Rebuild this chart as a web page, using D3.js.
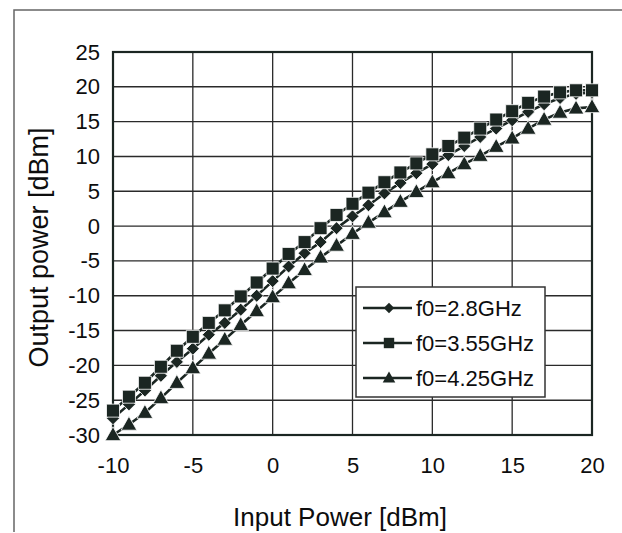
<!DOCTYPE html>
<html><head><meta charset="utf-8">
<script src="https://cdn.jsdelivr.net/npm/d3@7/dist/d3.min.js"></script>
<style>body{margin:0;background:#fff}svg{display:block}</style>
</head><body><svg id="c" width="622" height="533"></svg>
<script>
const inputPower = [-10,-9,-8,-7,-6,-5,-4,-3,-2,-1,0,1,2,3,4,5,6,7,8,9,10,11,12,13,14,15,16,17,18,19,20];
const out28 = [-27.6,-25.6,-23.6,-21.5,-19.5,-17.6,-15.6,-13.9,-12.0,-10.0,-7.9,-5.8,-3.9,-2.3,-0.3,1.4,3.0,4.7,6.2,7.6,8.9,10.2,11.5,12.8,14.0,15.2,16.4,17.5,18.4,19.0,19.2];
const out355 = [-26.5,-24.5,-22.5,-20.2,-17.9,-15.9,-13.9,-12.1,-10.1,-8.1,-6.1,-4.0,-2.3,-0.3,1.6,3.2,4.8,6.3,7.7,9.0,10.3,11.5,12.7,14.0,15.3,16.5,17.7,18.6,19.2,19.5,19.5];
const out425 = [-30,-28.5,-26.8,-24.7,-22.5,-20.4,-18.3,-16.3,-14.2,-12.2,-10.2,-8.2,-6.3,-4.5,-2.8,-1.1,0.5,2.0,3.5,4.9,6.3,7.6,8.9,10.1,11.4,12.6,14.0,15.3,16.3,16.9,17.1];
const seriesNames = ["f0=2.8GHz","f0=3.55GHz","f0=4.25GHz"];
const xTicks = [-10,-5,0,5,10,15,20];
const yTicks = [-30,-25,-20,-15,-10,-5,0,5,10,15,20,25];
const xTitle = "Input Power [dBm]";
const yTitle = "Output power [dBm]";

const ink = "#1b2622";
const font = "Liberation Sans, Arial, sans-serif";
const svg = d3.select("#c");
const L = 113, R = 592, T = 52, B = 435;
const x = d3.scaleLinear().domain([-10,20]).range([L,R]);
const y = d3.scaleLinear().domain([-30,25]).range([B,T]);
const fmt = d => String(d);

// outer frame
svg.append("path").attr("d","M14,532 L14,10 L622,10").attr("fill","none").attr("stroke","#666").attr("stroke-width",1.5);

// gridlines
const g = svg.append("g");
g.selectAll(".hg").data(yTicks).join("line")
  .attr("x1",L).attr("x2",R).attr("y1",d=>y(d)).attr("y2",d=>y(d))
  .attr("stroke","#2a2a2a").attr("stroke-width",1.4);
g.selectAll(".vg").data(xTicks).join("line")
  .attr("y1",T).attr("y2",B).attr("x1",d=>x(d)).attr("x2",d=>x(d))
  .attr("stroke","#2a2a2a").attr("stroke-width",1.3);
svg.append("rect").attr("x",L).attr("y",T).attr("width",R-L).attr("height",B-T)
  .attr("fill","none").attr("stroke",ink).attr("stroke-width",2.2);

// axes (labels only)
const yAx = svg.append("g").attr("transform",`translate(${L},0)`)
  .call(d3.axisLeft(y).tickValues(yTicks).tickFormat(fmt).tickSize(0).tickPadding(13));
yAx.select(".domain").remove();
yAx.selectAll("text").attr("font-family",font).attr("font-size",22).attr("fill","#0d0d0d");
const xAx = svg.append("g").attr("transform",`translate(0,${B})`)
  .call(d3.axisBottom(x).tickValues(xTicks).tickFormat(fmt).tickSize(0).tickPadding(22));
xAx.select(".domain").remove();
xAx.selectAll("text").attr("font-family",font).attr("font-size",22).attr("fill","#0d0d0d");

svg.append("text").attr("x",340).attr("y",526).attr("text-anchor","middle")
  .attr("font-family",font).attr("font-size",26).attr("fill","#0d0d0d").text(xTitle);
svg.append("text").attr("transform",`translate(48,${(T+B)/2+4}) rotate(-90)`).attr("text-anchor","middle")
  .attr("font-family",font).attr("font-size",27).attr("fill","#0d0d0d").text(yTitle);

// marker shapes
const diamondPath = s => `M0,${-s}L${s},0L0,${s}L${-s},0Z`;
const squarePath = s => `M${-s},${-s}H${s}V${s}H${-s}Z`;
const triPath = s => `M0,${-s*1.1}L${s*1.05},${s*0.75}L${-s*1.05},${s*0.75}Z`;
const shapes = [diamondPath(6.5), squarePath(6.5), triPath(7.5)];
const data = [out28, out355, out425];

const line = d3.line().x((d,i)=>x(inputPower[i])).y(d=>y(d));
data.forEach((vals,k)=>{
  svg.append("path").datum(vals).attr("d",line).attr("fill","none").attr("stroke",ink).attr("stroke-width",2.6);
});
data.forEach((vals,k)=>{
  svg.append("g").selectAll("path").data(vals).join("path")
    .attr("transform",(d,i)=>`translate(${x(inputPower[i])},${y(d)})`)
    .attr("d",shapes[k]).attr("fill",ink).attr("stroke","#fff").attr("stroke-width",0.8);
});

// legend
const lg = svg.append("g");
lg.append("rect").attr("x",356).attr("y",287).attr("width",189).attr("height",110)
  .attr("fill","#fff").attr("stroke","#333").attr("stroke-width",1.5);
seriesNames.forEach((nm,k)=>{
  const cy = 308 + k*35;
  lg.append("line").attr("x1",363).attr("x2",412).attr("y1",cy).attr("y2",cy).attr("stroke",ink).attr("stroke-width",2.4);
  lg.append("path").attr("transform",`translate(389,${cy}) scale(0.8)`).attr("d",shapes[k]).attr("fill",ink);
  lg.append("text").attr("x",416).attr("y",cy).attr("dy","0.36em")
    .attr("font-family",font).attr("font-size",22).attr("fill","#0d0d0d").text(nm);
});
</script></body></html>
